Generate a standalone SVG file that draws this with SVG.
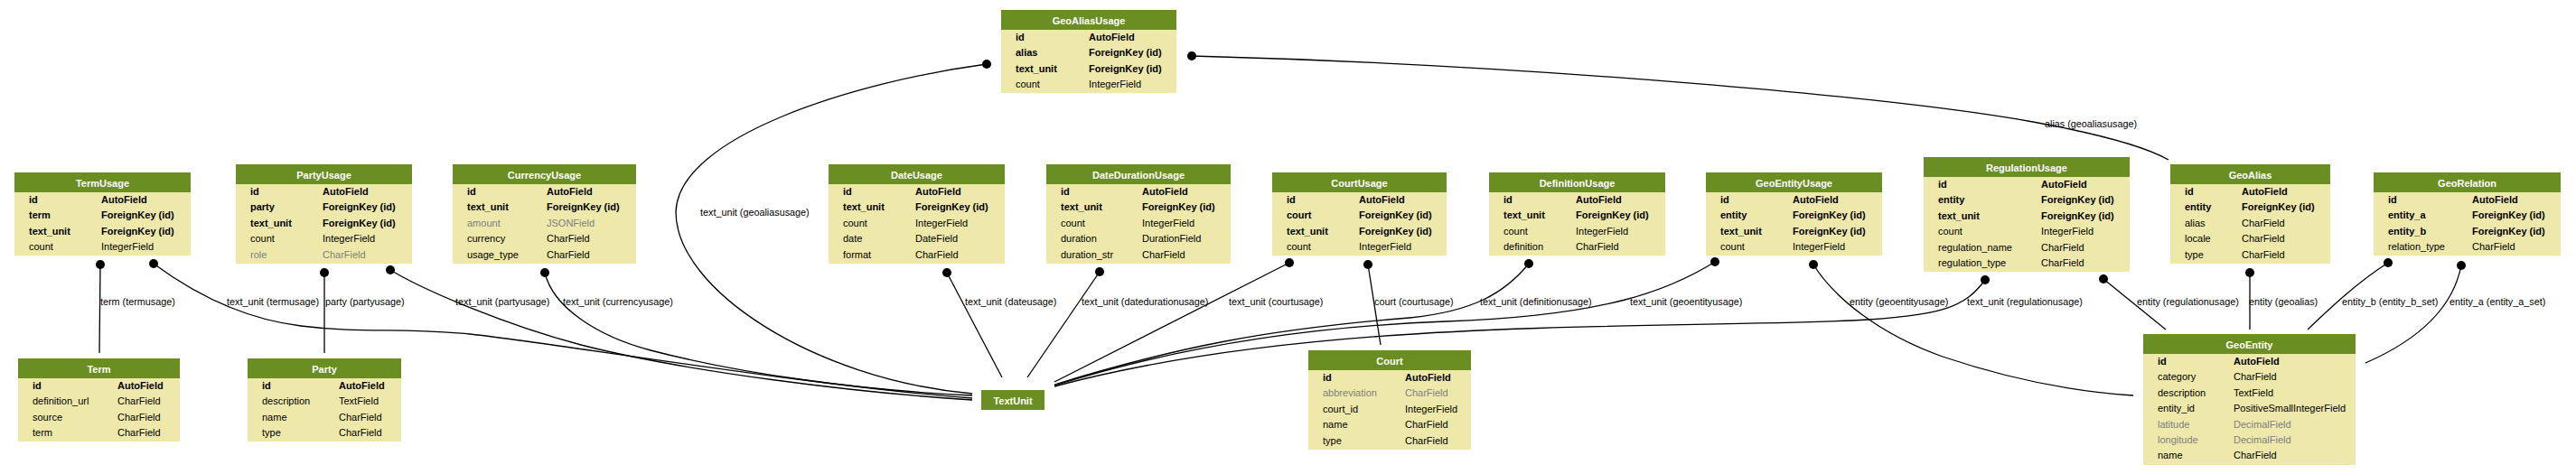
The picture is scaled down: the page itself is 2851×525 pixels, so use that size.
<svg xmlns="http://www.w3.org/2000/svg" width="2851" height="525" viewBox="0 0 2851 525">
<style>
.body{fill:#eee8aa}
.hdr{fill:#6b8e23}
.title{font-family:"Liberation Sans",Arial,sans-serif;font-size:11px;font-weight:bold;fill:#fff;text-anchor:middle}
.f{font-family:"Liberation Sans",Arial,sans-serif;font-size:11px;fill:#000}
.b{font-weight:bold}
.g{fill:#7f7f7f}
.e{fill:none;stroke:#000;stroke-width:1.3}
.lbl{font-family:"Liberation Sans",Arial,sans-serif;font-size:10.8px;fill:#000}
</style>
<rect width="2851" height="525" fill="#fff"/>
<g id="connectors">
<path class="e" d="M111,293 L110,391"/>
<path class="e" d="M170,292 C205,318 260,352 333,361 S440,362 520,370 S900,428 1076,441"/>
<path class="e" d="M359,302 L359,391"/>
<path class="e" d="M432,299 C470,322 560,360 643,382 C760,412 950,435 1076,443"/>
<path class="e" d="M603,302 C612,340 660,372 720,388 C820,414 950,432 1076,438"/>
<path class="e" d="M1092,71 C950,90 750,150 748,235 C748,320 900,420 1076,436"/>
<path class="e" d="M1048,302 L1109,418"/>
<path class="e" d="M1217,301 L1137,418"/>
<path class="e" d="M1427,291 L1167,423"/>
<path class="e" d="M1514,293 L1528,382"/>
<path class="e" d="M1692,292 C1665,325 1630,345 1560,352 C1400,365 1300,385 1167,426"/>
<path class="e" d="M1898,290 C1850,320 1780,350 1600,356 C1440,362 1300,385 1167,427"/>
<path class="e" d="M2197,310 C2175,340 2150,350 2050,355 C1800,365 1450,352 1167,428"/>
<path class="e" d="M2007,293 C2030,330 2080,370 2150,395 C2230,422 2300,434 2361,438"/>
<path class="e" d="M2328,309 L2397,365"/>
<path class="e" d="M2490,302 L2490,365"/>
<path class="e" d="M2643,291 C2610,312 2580,340 2554,365"/>
<path class="e" d="M2724,294 C2715,340 2680,375 2618,402"/>
<path class="e" d="M1319,62 C1700,72 2100,108 2250,135 C2310,146 2370,160 2400,177"/>
<g fill="#000">
<circle cx="111" cy="293" r="5"/><circle cx="170" cy="292" r="5"/><circle cx="359" cy="302" r="5"/>
<circle cx="432" cy="299" r="5"/><circle cx="603" cy="302" r="5"/><circle cx="1092" cy="71" r="5"/>
<circle cx="1048" cy="302" r="5"/><circle cx="1217" cy="301" r="5"/><circle cx="1427" cy="291" r="5"/>
<circle cx="1514" cy="293" r="5"/><circle cx="1692" cy="292" r="5"/><circle cx="1898" cy="290" r="5"/>
<circle cx="2197" cy="310" r="5"/><circle cx="2007" cy="293" r="5"/><circle cx="2328" cy="309" r="5"/>
<circle cx="2490" cy="302" r="5"/><circle cx="2643" cy="291" r="5"/><circle cx="2724" cy="294" r="5"/>
<circle cx="1319" cy="62" r="5"/>
</g>
<text class="lbl" x="111" y="338">term (termusage)</text>
<text class="lbl" x="251" y="338">text_unit (termusage)</text>
<text class="lbl" x="360" y="338">party (partyusage)</text>
<text class="lbl" x="504" y="338">text_unit (partyusage)</text>
<text class="lbl" x="623" y="338">text_unit (currencyusage)</text>
<text class="lbl" x="775" y="239">text_unit (geoaliasusage)</text>
<text class="lbl" x="1068" y="338">text_unit (dateusage)</text>
<text class="lbl" x="1197" y="338">text_unit (datedurationusage)</text>
<text class="lbl" x="1360" y="338">text_unit (courtusage)</text>
<text class="lbl" x="1521" y="338">court (courtusage)</text>
<text class="lbl" x="1638" y="338">text_unit (definitionusage)</text>
<text class="lbl" x="1804" y="338">text_unit (geoentityusage)</text>
<text class="lbl" x="2047" y="338">entity (geoentityusage)</text>
<text class="lbl" x="2177" y="338">text_unit (regulationusage)</text>
<text class="lbl" x="2365" y="338">entity (regulationusage)</text>
<text class="lbl" x="2489" y="338">entity (geoalias)</text>
<text class="lbl" x="2592" y="338">entity_b (entity_b_set)</text>
<text class="lbl" x="2711" y="338">entity_a (entity_a_set)</text>
<text class="lbl" x="2263" y="141">alias (geoaliasusage)</text>
</g>

<g id="TermUsage" transform="translate(16,191)">
<rect class="body" width="195" height="92"/><rect class="hdr" width="195" height="22"/>
<text class="title" x="97.5" y="15.5">TermUsage</text>
<text class="f b" x="16" y="34">id</text><text class="f b" x="96" y="34">AutoField</text>
<text class="f b" x="16" y="51.4">term</text><text class="f b" x="96" y="51.4">ForeignKey (id)</text>
<text class="f b" x="16" y="68.8">text_unit</text><text class="f b" x="96" y="68.8">ForeignKey (id)</text>
<text class="f" x="16" y="86.2">count</text><text class="f" x="96" y="86.2">IntegerField</text>
</g>

<g id="Term" transform="translate(20,397)">
<rect class="body" width="179" height="92"/><rect class="hdr" width="179" height="22"/>
<text class="title" x="89.5" y="15.5">Term</text>
<text class="f b" x="16" y="34">id</text><text class="f b" x="110" y="34">AutoField</text>
<text class="f" x="16" y="51.4">definition_url</text><text class="f" x="110" y="51.4">CharField</text>
<text class="f" x="16" y="68.8">source</text><text class="f" x="110" y="68.8">CharField</text>
<text class="f" x="16" y="86.2">term</text><text class="f" x="110" y="86.2">CharField</text>
</g>

<g id="PartyUsage" transform="translate(261,182)">
<rect class="body" width="195" height="110"/><rect class="hdr" width="195" height="22"/>
<text class="title" x="97.5" y="15.5">PartyUsage</text>
<text class="f b" x="16" y="34">id</text><text class="f b" x="96" y="34">AutoField</text>
<text class="f b" x="16" y="51.4">party</text><text class="f b" x="96" y="51.4">ForeignKey (id)</text>
<text class="f b" x="16" y="68.8">text_unit</text><text class="f b" x="96" y="68.8">ForeignKey (id)</text>
<text class="f" x="16" y="86.2">count</text><text class="f" x="96" y="86.2">IntegerField</text>
<text class="f g" x="16" y="103.6">role</text><text class="f g" x="96" y="103.6">CharField</text>
</g>

<g id="Party" transform="translate(274,397)">
<rect class="body" width="170" height="92"/><rect class="hdr" width="170" height="22"/>
<text class="title" x="85" y="15.5">Party</text>
<text class="f b" x="16" y="34">id</text><text class="f b" x="101" y="34">AutoField</text>
<text class="f" x="16" y="51.4">description</text><text class="f" x="101" y="51.4">TextField</text>
<text class="f" x="16" y="68.8">name</text><text class="f" x="101" y="68.8">CharField</text>
<text class="f" x="16" y="86.2">type</text><text class="f" x="101" y="86.2">CharField</text>
</g>

<g id="CurrencyUsage" transform="translate(501,182)">
<rect class="body" width="203" height="110"/><rect class="hdr" width="203" height="22"/>
<text class="title" x="101.5" y="15.5">CurrencyUsage</text>
<text class="f b" x="16" y="34">id</text><text class="f b" x="104" y="34">AutoField</text>
<text class="f b" x="16" y="51.4">text_unit</text><text class="f b" x="104" y="51.4">ForeignKey (id)</text>
<text class="f g" x="16" y="68.8">amount</text><text class="f g" x="104" y="68.8">JSONField</text>
<text class="f" x="16" y="86.2">currency</text><text class="f" x="104" y="86.2">CharField</text>
<text class="f" x="16" y="103.6">usage_type</text><text class="f" x="104" y="103.6">CharField</text>
</g>

<g id="GeoAliasUsage" transform="translate(1108,11)">
<rect class="body" width="194" height="92"/><rect class="hdr" width="194" height="22"/>
<text class="title" x="97" y="15.5">GeoAliasUsage</text>
<text class="f b" x="16" y="34">id</text><text class="f b" x="97" y="34">AutoField</text>
<text class="f b" x="16" y="51.4">alias</text><text class="f b" x="97" y="51.4">ForeignKey (id)</text>
<text class="f b" x="16" y="68.8">text_unit</text><text class="f b" x="97" y="68.8">ForeignKey (id)</text>
<text class="f" x="16" y="86.2">count</text><text class="f" x="97" y="86.2">IntegerField</text>
</g>

<g id="DateUsage" transform="translate(917,182)">
<rect class="body" width="195" height="110"/><rect class="hdr" width="195" height="22"/>
<text class="title" x="97.5" y="15.5">DateUsage</text>
<text class="f b" x="16" y="34">id</text><text class="f b" x="96" y="34">AutoField</text>
<text class="f b" x="16" y="51.4">text_unit</text><text class="f b" x="96" y="51.4">ForeignKey (id)</text>
<text class="f" x="16" y="68.8">count</text><text class="f" x="96" y="68.8">IntegerField</text>
<text class="f" x="16" y="86.2">date</text><text class="f" x="96" y="86.2">DateField</text>
<text class="f" x="16" y="103.6">format</text><text class="f" x="96" y="103.6">CharField</text>
</g>

<g id="DateDurationUsage" transform="translate(1158,182)">
<rect class="body" width="204" height="110"/><rect class="hdr" width="204" height="22"/>
<text class="title" x="102" y="15.5">DateDurationUsage</text>
<text class="f b" x="16" y="34">id</text><text class="f b" x="106" y="34">AutoField</text>
<text class="f b" x="16" y="51.4">text_unit</text><text class="f b" x="106" y="51.4">ForeignKey (id)</text>
<text class="f" x="16" y="68.8">count</text><text class="f" x="106" y="68.8">IntegerField</text>
<text class="f" x="16" y="86.2">duration</text><text class="f" x="106" y="86.2">DurationField</text>
<text class="f" x="16" y="103.6">duration_str</text><text class="f" x="106" y="103.6">CharField</text>
</g>

<g id="TextUnit" transform="translate(1086,432)">
<rect class="hdr" width="70" height="22"/>
<text class="title" x="35" y="15.5">TextUnit</text>
</g>

<g id="CourtUsage" transform="translate(1408,191)">
<rect class="body" width="193" height="92"/><rect class="hdr" width="193" height="22"/>
<text class="title" x="96.5" y="15.5">CourtUsage</text>
<text class="f b" x="16" y="34">id</text><text class="f b" x="96" y="34">AutoField</text>
<text class="f b" x="16" y="51.4">court</text><text class="f b" x="96" y="51.4">ForeignKey (id)</text>
<text class="f b" x="16" y="68.8">text_unit</text><text class="f b" x="96" y="68.8">ForeignKey (id)</text>
<text class="f" x="16" y="86.2">count</text><text class="f" x="96" y="86.2">IntegerField</text>
</g>

<g id="Court" transform="translate(1448,388)">
<rect class="body" width="180" height="110"/><rect class="hdr" width="180" height="22"/>
<text class="title" x="90" y="15.5">Court</text>
<text class="f b" x="16" y="34">id</text><text class="f b" x="107" y="34">AutoField</text>
<text class="f g" x="16" y="51.4">abbreviation</text><text class="f g" x="107" y="51.4">CharField</text>
<text class="f" x="16" y="68.8">court_id</text><text class="f" x="107" y="68.8">IntegerField</text>
<text class="f" x="16" y="86.2">name</text><text class="f" x="107" y="86.2">CharField</text>
<text class="f" x="16" y="103.6">type</text><text class="f" x="107" y="103.6">CharField</text>
</g>

<g id="DefinitionUsage" transform="translate(1648,191)">
<rect class="body" width="195" height="92"/><rect class="hdr" width="195" height="22"/>
<text class="title" x="97.5" y="15.5">DefinitionUsage</text>
<text class="f b" x="16" y="34">id</text><text class="f b" x="96" y="34">AutoField</text>
<text class="f b" x="16" y="51.4">text_unit</text><text class="f b" x="96" y="51.4">ForeignKey (id)</text>
<text class="f" x="16" y="68.8">count</text><text class="f" x="96" y="68.8">IntegerField</text>
<text class="f" x="16" y="86.2">definition</text><text class="f" x="96" y="86.2">CharField</text>
</g>

<g id="GeoEntityUsage" transform="translate(1888,191)">
<rect class="body" width="195" height="92"/><rect class="hdr" width="195" height="22"/>
<text class="title" x="97.5" y="15.5">GeoEntityUsage</text>
<text class="f b" x="16" y="34">id</text><text class="f b" x="96" y="34">AutoField</text>
<text class="f b" x="16" y="51.4">entity</text><text class="f b" x="96" y="51.4">ForeignKey (id)</text>
<text class="f b" x="16" y="68.8">text_unit</text><text class="f b" x="96" y="68.8">ForeignKey (id)</text>
<text class="f" x="16" y="86.2">count</text><text class="f" x="96" y="86.2">IntegerField</text>
</g>

<g id="RegulationUsage" transform="translate(2129,174)">
<rect class="body" width="228" height="127"/><rect class="hdr" width="228" height="22"/>
<text class="title" x="114" y="15.5">RegulationUsage</text>
<text class="f b" x="16" y="34">id</text><text class="f b" x="130" y="34">AutoField</text>
<text class="f b" x="16" y="51.4">entity</text><text class="f b" x="130" y="51.4">ForeignKey (id)</text>
<text class="f b" x="16" y="68.8">text_unit</text><text class="f b" x="130" y="68.8">ForeignKey (id)</text>
<text class="f" x="16" y="86.2">count</text><text class="f" x="130" y="86.2">IntegerField</text>
<text class="f" x="16" y="103.6">regulation_name</text><text class="f" x="130" y="103.6">CharField</text>
<text class="f" x="16" y="121">regulation_type</text><text class="f" x="130" y="121">CharField</text>
</g>

<g id="GeoAlias" transform="translate(2402,182)">
<rect class="body" width="177" height="110"/><rect class="hdr" width="177" height="22"/>
<text class="title" x="88.5" y="15.5">GeoAlias</text>
<text class="f b" x="16" y="34">id</text><text class="f b" x="79" y="34">AutoField</text>
<text class="f b" x="16" y="51.4">entity</text><text class="f b" x="79" y="51.4">ForeignKey (id)</text>
<text class="f" x="16" y="68.8">alias</text><text class="f" x="79" y="68.8">CharField</text>
<text class="f" x="16" y="86.2">locale</text><text class="f" x="79" y="86.2">CharField</text>
<text class="f" x="16" y="103.6">type</text><text class="f" x="79" y="103.6">CharField</text>
</g>

<g id="GeoRelation" transform="translate(2627,191)">
<rect class="body" width="207" height="92"/><rect class="hdr" width="207" height="22"/>
<text class="title" x="103.5" y="15.5">GeoRelation</text>
<text class="f b" x="16" y="34">id</text><text class="f b" x="109" y="34">AutoField</text>
<text class="f b" x="16" y="51.4">entity_a</text><text class="f b" x="109" y="51.4">ForeignKey (id)</text>
<text class="f b" x="16" y="68.8">entity_b</text><text class="f b" x="109" y="68.8">ForeignKey (id)</text>
<text class="f" x="16" y="86.2">relation_type</text><text class="f" x="109" y="86.2">CharField</text>
</g>

<g id="GeoEntity" transform="translate(2372,370)">
<rect class="body" width="235" height="145"/><rect class="hdr" width="235" height="22"/>
<text class="title" x="117.5" y="15.5">GeoEntity</text>
<text class="f b" x="16" y="34">id</text><text class="f b" x="100" y="34">AutoField</text>
<text class="f" x="16" y="51.4">category</text><text class="f" x="100" y="51.4">CharField</text>
<text class="f" x="16" y="68.8">description</text><text class="f" x="100" y="68.8">TextField</text>
<text class="f" x="16" y="86.2">entity_id</text><text class="f" x="100" y="86.2">PositiveSmallIntegerField</text>
<text class="f g" x="16" y="103.6">latitude</text><text class="f g" x="100" y="103.6">DecimalField</text>
<text class="f g" x="16" y="121">longitude</text><text class="f g" x="100" y="121">DecimalField</text>
<text class="f" x="16" y="138.4">name</text><text class="f" x="100" y="138.4">CharField</text>
</g>
</svg>
